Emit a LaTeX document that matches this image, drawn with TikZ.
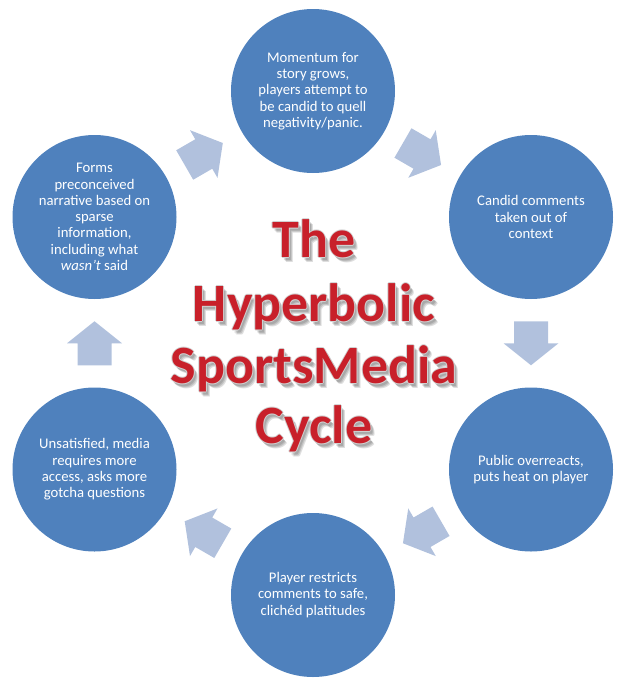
\documentclass[tikz,border=0pt]{standalone}
\usepackage{fontspec}
\setmainfont{Carlito}
\usetikzlibrary{calc}
\definecolor{circblue}{HTML}{4F81BD}
\definecolor{arrowblue}{RGB}{177,193,221}
\definecolor{titlered}{HTML}{C8202A}
\newcommand\cycblockarrow[3]{%
  \fill[arrowblue, shift={($(#1)!0.5!(#2)$)}, rotate=#3]
    (-22,-17) -- (0,-17) -- (0,-27.5) -- (22,0) -- (0,27.5) -- (0,17) -- (-22,17) -- cycle;}
\begin{document}
\begin{tikzpicture}[x=1pt,y=-1pt,
  stage/.style={circle, fill=circblue, minimum size=164pt, inner sep=0pt,
    text=white, align=center, font=\fontsize{14.7}{16.3}\selectfont},
  titleline/.style={anchor=base, inner sep=0pt,
    font=\bfseries\fontsize{54}{62}\selectfont},
]
\useasboundingbox (0,0) rectangle (626,683);

\node[stage] (top) at (313,91) {Momentum for\\story grows,\\players attempt to\\be candid to quell\\negativity/panic.};
\node[stage] (ur) at (531,217) {Candid comments\\taken out of\\context};
\node[stage] (lr) at (531,469.5) {Public overreacts,\\puts heat on player};
\node[stage] (bot) at (313,595) {Player restricts\\comments to safe,\\clichéd platitudes};
\node[stage] (ll) at (94.5,469.5) {Unsatisfied, media\\requires more\\access, asks more\\gotcha questions};
\node[stage] (ul) at (94.5,217) {Forms\\preconceived\\narrative based on\\sparse\\information,\\including what\\\textit{wasn’t} said};

\cycblockarrow{ul}{top}{30}
\cycblockarrow{top}{ur}{-30}
\cycblockarrow{ur}{lr}{-90}
\cycblockarrow{lr}{bot}{-150}
\cycblockarrow{bot}{ll}{150}
\cycblockarrow{ll}{ul}{90}

\foreach \nm/\yy/\txt in {t1/257/The, t2/321/Hyperbolic, t3/383/SportsMedia, t4/443/Cycle} {
  \foreach \dx/\dy [count=\k] in {2/3, 3/4, 4/5}
    \node[titleline, text=black, opacity=0.13] (\nm-s\k) at (314+\dx, \yy+\dy) {\txt};
  \foreach \dx/\dy [count=\k] in {1/0, -1/0, 0/1, 0/-1}
    \node[titleline, text=gray!35] (\nm-o\k) at (314+\dx, \yy+\dy) {\txt};
  \node[titleline, text=titlered] (\nm) at (314, \yy) {\txt};
}
\end{tikzpicture}
\end{document}
